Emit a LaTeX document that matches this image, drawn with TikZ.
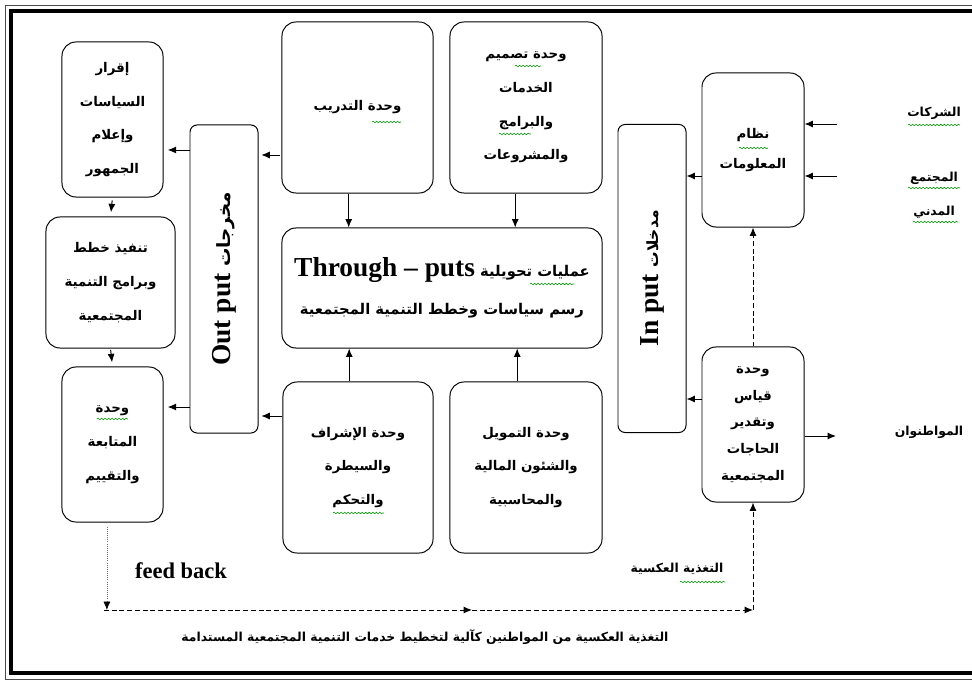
\documentclass[tikz,border=0pt]{standalone}
\usepackage{fontspec}
\setmainfont{Liberation Serif}
\newfontfamily\arabicfont[Script=Arabic]{DejaVu Sans}
\TeXXeTstate=1
\usetikzlibrary{arrows.meta, positioning, calc, decorations.pathmorphing}

\newcommand{\ar}[1]{{\arabicfont\bfseries\beginR #1\endR}}

\tikzset{
  unit/.style={draw, line width=0.7pt, rounded corners=0.35cm, align=center,
    inner sep=2pt, font=\fontsize{9.5}{24}\selectfont},
  port/.style={draw, line width=0.7pt, rounded corners=0.18cm,
    minimum width=1.7cm, minimum height=7.7cm},
  actor/.style={font=\fontsize{8.8}{12}\selectfont},
  flow/.style={draw, line width=0.7pt, arrows={-Latex[length=6pt,width=5pt]}},
  back/.style={flow, dash pattern=on 3.5pt off 2pt},
  spell/.style={draw=green!60!black, line width=0.4pt, decorate,
    decoration={snake, amplitude=0.6pt, segment length=2.5pt}},
}

\begin{document}
\begin{tikzpicture}[x=0.025cm, y=-0.025cm]
    \clip (0,0) rectangle (972,682);

    % Frame
    \draw[line width=0.5pt, black!70] (5,5) rectangle (1000,679);
    \draw[line width=2.4pt] (11,11) rectangle (995,673);

    % Left column
    \node[unit, minimum width=2.525cm, minimum height=3.875cm] (policy) at (112.5,119.5)
        {\ar{إقرار}\\\ar{السياسات}\\\ar{وإعلام}\\\ar{الجمهور}};
    \node[unit, minimum width=3.225cm, minimum height=3.275cm] (plans) at (110.5,282.5)
        {\ar{تنفيذ خطط}\\\ar{وبرامج التنمية}\\\ar{المجتمعية}};
    \node[unit, minimum width=2.525cm, minimum height=3.875cm] (follow) at (112.5,444.5)
        {\ar{وحدة}\\\ar{المتابعة}\\\ar{والتقييم}};

    % Output
    \node[port] (output) at (224,279) {};
    \node[rotate=90] (outtxt) at (output.center)
        {\fontsize{19.5}{22}\selectfont\bfseries Out put\ {\fontsize{13}{14}\selectfont\ar{مخرجات}}};

    % Middle units
    \node[unit, minimum width=3.775cm, minimum height=4.275cm] (training) at (357.5,107.5)
        {\ar{وحدة التدريب}};
    \node[unit, minimum width=3.8cm, minimum height=4.275cm] (design) at (526,107.5)
        {\ar{وحدة تصميم}\\\ar{الخدمات}\\\ar{والبرامج}\\\ar{والمشروعات}};
    \node[unit, minimum width=8cm, minimum height=3cm, font=\fontsize{10.5}{27}\selectfont] (through) at (442,288)
        {\ar{عمليات تحويلية \beginL{\rmfamily\fontsize{19.5}{22}\selectfont Through – puts}\endL}\\
         \ar{رسم سياسات وخطط التنمية المجتمعية}};
    \node[unit, minimum width=3.75cm, minimum height=4.275cm] (supervise) at (358,467.5)
        {\ar{وحدة الإشراف}\\\ar{والسيطرة}\\\ar{والتحكم}};
    \node[unit, minimum width=3.8cm, minimum height=4.275cm] (funding) at (526,467.5)
        {\ar{وحدة التمويل}\\\ar{والشئون المالية}\\\ar{والمحاسبية}};

    % Input
    \node[port] (input) at (652,278.5) {};
    \node[rotate=90] (intxt) at (input.center)
        {\fontsize{19.5}{22}\selectfont\bfseries In put\ {\fontsize{11}{12}\selectfont\ar{مدخلات}}};

    % Right units
    \node[unit, minimum width=2.55cm, minimum height=3.85cm, font=\fontsize{9.5}{21}\selectfont] (info) at (753,150)
        {\ar{نظام}\\\ar{المعلومات}};
    \node[unit, minimum width=2.55cm, minimum height=3.875cm, font=\fontsize{9.5}{19}\selectfont] (measure) at (753,424.5)
        {\ar{وحدة}\\\ar{قياس}\\\ar{وتقدير}\\\ar{الحاجات}\\\ar{المجتمعية}};

    % Outside actors
    \node[actor] (companies) at (934,113) {\ar{الشركات}};
    \node[actor, align=center, font=\fontsize{8.8}{24}\selectfont] (civil) at (934,195) {\ar{المجتمع}\\\ar{المدني}};
    \node[actor] (citizens) at (929,432) {\ar{المواطنوان}};

    % Arrows around the output
    \coordinate (o1) at (0,150);
    \coordinate (o2) at (0,155);
    \coordinate (o3) at (0,407);
    \coordinate (o4) at (0,416);
    \draw[flow, shorten >=3pt] (output.west |- o1) -- (policy.east |- o1);
    \draw[flow, shorten <=1pt, shorten >=2pt] (training.west |- o2) -- (output.east |- o2);
    \draw[flow, shorten >=3pt] (output.west |- o3) -- (follow.east |- o3);
    \draw[flow, shorten >=2pt] (supervise.west |- o4) -- (output.east |- o4);
    \draw[flow, shorten <=2pt, shorten >=3pt] (policy.south) -- (plans.north);
    \draw[flow, shorten <=1pt, shorten >=3pt] (plans.south) -- (follow.north);

    % Arrows into the through-puts
    \draw[flow] ([xshift=-0.22cm]training.south) -- ([xshift=-0.22cm]training.south |- through.north);
    \draw[flow] ([xshift=-0.27cm]design.south) -- ([xshift=-0.27cm]design.south |- through.north);
    \draw[flow] ([xshift=-0.22cm]supervise.north) -- ([xshift=-0.22cm]supervise.north |- through.south);
    \draw[flow] ([xshift=-0.22cm]funding.north) -- ([xshift=-0.22cm]funding.north |- through.south);

    % Arrows around the input
    \coordinate (c1) at (837,124);
    \coordinate (c2) at (837,176);
    \coordinate (m1) at (0,399);
    \coordinate (m2) at (836,436);
    \draw[flow] (c1) -- (info.east |- c1);
    \draw[flow] (c2) -- (info.east |- c2);
    \draw[flow] (info.west |- c2) -- (input.east |- c2);
    \draw[flow] (measure.west |- m1) -- (input.east |- m1);
    \draw[flow] (measure.east |- m2) -- (m2);
    \draw[back] (measure.north) -- (info.south);

    % Feed back loop
    \coordinate (fbL) at (104,610);
    \coordinate (fbM) at (472,610);
    \draw[black!55, line width=0.5pt, densely dotted, shorten <=3pt,
        arrows={-Latex[length=6pt,width=5pt,color=black]}]
        ([xshift=-0.14cm]follow.south) -- ([xshift=-0.14cm]follow.south |- fbL);
    \draw[back] (fbL) -- (fbM);
    \draw[back] (fbM) -- (measure.south |- fbL);
    \draw[back] (measure.south |- fbL) -- (measure.south);

    \node[font=\fontsize{16}{18}\selectfont\bfseries] (fbtxt) at (181,571) {feed back};
    \node[actor] (fbar) at (677,569) {\ar{التغذية العكسية}};
    \node[actor] (fbnote) at (425,637)
        {\ar{التغذية العكسية من المواطنين كآلية لتخطيط خدمات التنمية المجتمعية المستدامة}};

    % Spelling marks
    \draw[spell] (372,122) -- (401,122);
    \draw[spell] (515,66) -- (541,66);
    \draw[spell] (499,134) -- (531,134);
    \draw[spell] (530,284) -- (574,284);
    \draw[spell] (333,513) -- (384,513);
    \draw[spell] (97,419) -- (128,419);
    \draw[spell] (739,148) -- (768,148);
    \draw[spell] (908,125) -- (960,125);
    \draw[spell] (908,188) -- (960,188);
    \draw[spell] (913,222) -- (958,222);
    \draw[spell] (680,582) -- (725,582);
\end{tikzpicture}
\end{document}
